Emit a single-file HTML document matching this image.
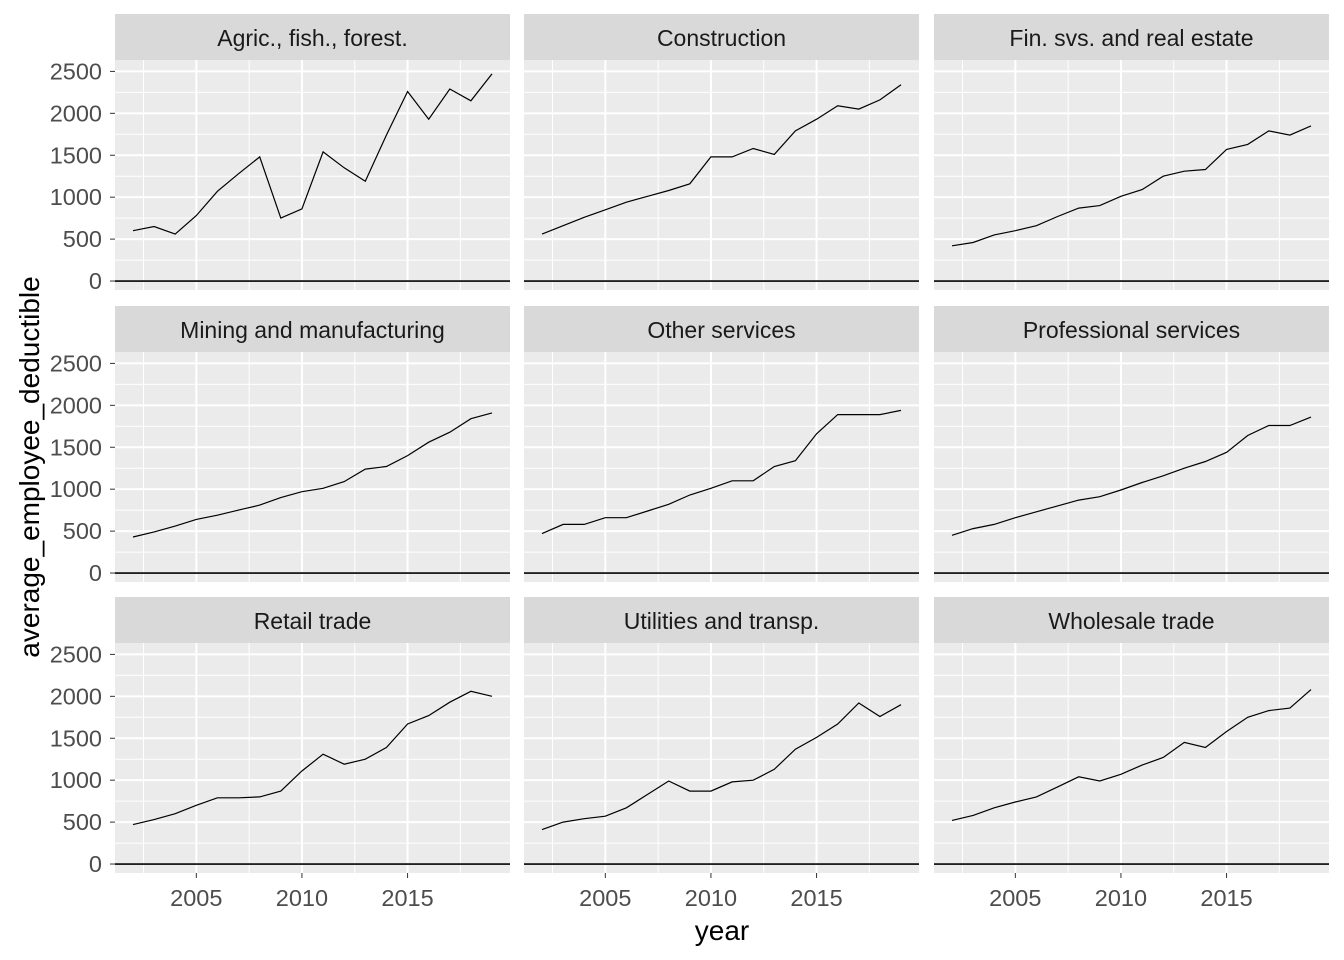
<!DOCTYPE html>
<html><head><meta charset="utf-8">
<style>
body{margin:0;background:#fff;}
svg{display:block;font-family:"Liberation Sans",Arial,sans-serif;}
</style></head>
<body>
<svg id="chart" width="1344" height="960" viewBox="0 0 1344 960"></svg>
<script>
const years = [2002,2003,2004,2005,2006,2007,2008,2009,2010,2011,2012,2013,2014,2015,2016,2017,2018,2019];
const facets = ["Agric., fish., forest.","Construction","Fin. svs. and real estate","Mining and manufacturing","Other services","Professional services","Retail trade","Utilities and transp.","Wholesale trade"];
const agric = [600,650,560,780,1070,1280,1480,750,860,1540,1350,1190,1740,2260,1930,2290,2150,2470];
const construction = [560,660,760,850,940,1010,1080,1160,1480,1480,1580,1510,1790,1930,2090,2050,2160,2340];
const finance = [420,460,550,600,660,770,870,900,1010,1090,1250,1310,1330,1570,1630,1790,1740,1850];
const mining = [430,490,560,640,690,750,810,900,970,1010,1090,1240,1270,1400,1560,1680,1840,1910];
const other = [470,580,580,660,660,740,820,930,1010,1100,1100,1270,1340,1660,1890,1890,1890,1940];
const professional = [450,530,580,660,730,800,870,910,990,1080,1160,1250,1330,1440,1640,1760,1760,1860];
const retail = [470,530,600,700,790,790,800,870,1110,1310,1190,1250,1390,1670,1770,1930,2060,2000];
const utilities = [410,500,540,570,670,830,990,870,870,980,1000,1130,1370,1510,1670,1920,1760,1900];
const wholesale = [520,580,670,740,800,920,1040,990,1070,1180,1270,1450,1390,1580,1750,1830,1860,2080];
const seriesList = [agric,construction,finance,mining,other,professional,retail,utilities,wholesale];
const yTicks = [0,500,1000,1500,2000,2500];
const yMinor = [250,750,1250,1750,2250];
const xTicks = [2005,2010,2015];
const xMinor = [2002.5,2007.5,2012.5,2017.5];

const NS="http://www.w3.org/2000/svg";
const svg=document.getElementById('chart');
function mk(tag,attrs,parent){const e=document.createElementNS(NS,tag);for(const k in attrs)e.setAttribute(k,attrs[k]);(parent||svg).appendChild(e);return e;}
const colX=[115,524,934], pw=395;
const stripTop=[14,306,597], stripH=46, ph=230;
const xMin=2001.15, xMax=2019.85;
const yMinV=-107, yMaxV=2636;
function xs(c,v){return colX[c]+(v-xMin)/(xMax-xMin)*pw;}
function ys(r,v){const top=stripTop[r]+stripH;return top+ph-(v-yMinV)/(yMaxV-yMinV)*ph;}

facets.forEach((name,i)=>{
  const r=Math.floor(i/3), c=i%3;
  const g=mk('g',{});
  
  
  const strip=mk('rect',{x:colX[c],y:stripTop[r],width:pw,height:stripH,fill:'#d9d9d9'},g);
  
  
  const st=mk('text',{x:colX[c]+pw/2,y:stripTop[r]+32,'text-anchor':'middle','font-size':'23','fill':'#1a1a1a'},g);
  st.textContent=name;
  
  
  const top=stripTop[r]+stripH;
  const bg=mk('rect',{x:colX[c],y:top,width:pw,height:ph,fill:'#ebebeb'},g);
  
  
  yMinor.forEach(v=>{mk('line',{x1:colX[c],x2:colX[c]+pw,y1:ys(r,v),y2:ys(r,v),stroke:'#fff','stroke-width':1},g);});
  xMinor.forEach(v=>{mk('line',{x1:xs(c,v),x2:xs(c,v),y1:top,y2:top+ph,stroke:'#fff','stroke-width':1},g);});
  yTicks.forEach(v=>{mk('line',{x1:colX[c],x2:colX[c]+pw,y1:ys(r,v),y2:ys(r,v),stroke:'#fff','stroke-width':2},g);});
  xTicks.forEach(v=>{mk('line',{x1:xs(c,v),x2:xs(c,v),y1:top,y2:top+ph,stroke:'#fff','stroke-width':2},g);});
  const hl=mk('line',{x1:colX[c],x2:colX[c]+pw,y1:ys(r,0),y2:ys(r,0),stroke:'#000','stroke-width':1.6},g);
  
  
  const d=seriesList[i].map((v,k)=>(k?'L':'M')+xs(c,years[k]).toFixed(1)+','+ys(r,v).toFixed(1)).join(' ');
  const p=mk('path',{d:d,fill:'none',stroke:'#000','stroke-width':1.2},g);
  
  
  if(c===0){
    yTicks.forEach(v=>{
      mk('line',{x1:colX[0]-5,x2:colX[0],y1:ys(r,v),y2:ys(r,v),stroke:'#333','stroke-width':1},g);
      const t=mk('text',{x:colX[0]-13,y:ys(r,v)+8,'text-anchor':'end','font-size':'23.5',fill:'#4d4d4d'},g);
      t.textContent=v;
      
      
    });
  }
  if(r===2){
    xTicks.forEach(v=>{
      mk('line',{x1:xs(c,v),x2:xs(c,v),y1:top+ph,y2:top+ph+5,stroke:'#333','stroke-width':1},g);
      const t=mk('text',{x:xs(c,v),y:top+ph+33,'text-anchor':'middle','font-size':'23.5',fill:'#4d4d4d'},g);
      t.textContent=v;
      
      
    });
  }
});
const xt=mk('text',{x:722,y:940,'text-anchor':'middle','font-size':'28',fill:'#000'});
xt.textContent='year';


const yt=mk('text',{x:0,y:0,'text-anchor':'middle','font-size':'28',fill:'#000',transform:'translate(39,467) rotate(-90)'});
yt.textContent='average_employee_deductible';


</script>
</body></html>
